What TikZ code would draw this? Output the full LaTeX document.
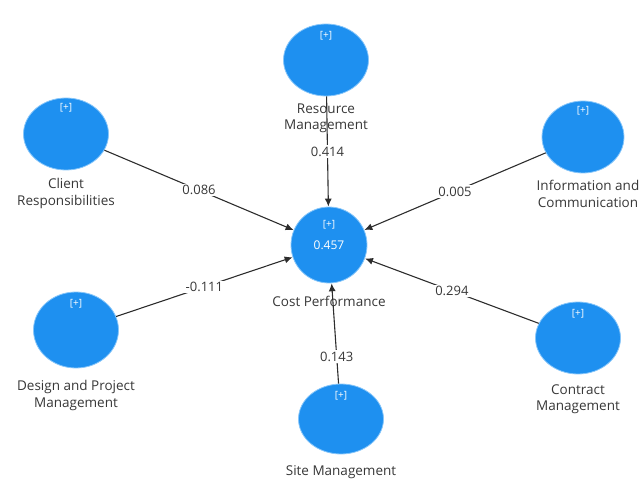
\documentclass[tikz,border=0pt]{standalone}
\usepackage{fontspec}
\setmainfont{Open Sans}
\usepackage{tikz}
\usetikzlibrary{arrows.meta, positioning, shapes.geometric}
\usepackage{xcolor}

\definecolor{plsblue}{RGB}{30,144,240}
\definecolor{plsrim}{RGB}{135,198,250}
\definecolor{pathgray}{RGB}{45,45,45}
\definecolor{txtgray}{RGB}{55,55,55}

\begin{document}
\begin{tikzpicture}[
  x=1pt, y=-1pt,
  node distance=8pt,
  latent/.style={ellipse, fill=plsblue, draw=plsrim, line width=0.8pt, minimum width=85pt, minimum height=72pt, inner sep=0pt},
  plus/.style={text=white, inner sep=0pt, font=\fontsize{10}{11}\selectfont},
  caption/.style={align=center, inner sep=0pt, text=txtgray, font=\fontsize{13.5}{16.5}\selectfont},
  coef/.style={fill=white, inner sep=1.5pt, text=txtgray, font=\fontsize{13}{14}\selectfont},
  arrow/.style={-{Latex[length=8pt, width=7pt]}, draw=pathgray, line width=1.1pt}
]

\useasboundingbox (0,0) rectangle (640,481);

\node[latent, minimum width=76pt, minimum height=76pt, text=white, font=\fontsize{12}{13}\selectfont] (cost) at (329,245) {0.457};
\node[latent] (res) at (326,60) {};
\node[latent] (client) at (66,134) {};
\node[latent, minimum width=82pt] (info) at (583,137) {};
\node[latent, minimum height=76pt] (design) at (76,330) {};
\node[latent] (contract) at (578,338) {};
\node[latent, minimum height=70pt] (site) at (341,419) {};

\node[plus, below=14pt of cost.north] (costplus) {[+]};
\node[plus, below=8pt of res.north] (resplus) {[+]};
\node[plus, below=6pt of client.north] (clientplus) {[+]};
\node[plus, below=6pt of info.north] (infoplus) {[+]};
\node[plus, below=8pt of design.north] (designplus) {[+]};
\node[plus, below=8pt of contract.north] (contractplus) {[+]};
\node[plus, below=8pt of site.north] (siteplus) {[+]};

\node[caption, below=13pt of cost] (costlbl) {Cost Performance};
\node[caption, below=7pt of res] (reslbl) {Resource\\Management};
\node[caption, below=8pt of client] (clientlbl) {Client\\Responsibilities};
\node[caption, below=7pt of info, xshift=5pt] (infolbl) {Information and\\Communication};
\node[caption, below=12pt of design] (designlbl) {Design and Project\\Management};
\node[caption, below=10pt of contract] (contractlbl) {Contract\\Management};
\node[caption, below=11pt of site] (sitelbl) {Site Management};

\draw[arrow] (res) -- node[coef] {0.414} (cost);
\draw[arrow] (client) -- node[coef] {0.086} (cost);
\draw[arrow] (info) -- node[coef] {0.005} (cost);
\draw[arrow] (design) -- node[coef] {-0.111} (cost);
\draw[arrow] (contract) -- node[coef] {0.294} (cost);
\draw[arrow] (site) -- node[coef, pos=0.27] {0.143} (cost);

\end{tikzpicture}
\end{document}
